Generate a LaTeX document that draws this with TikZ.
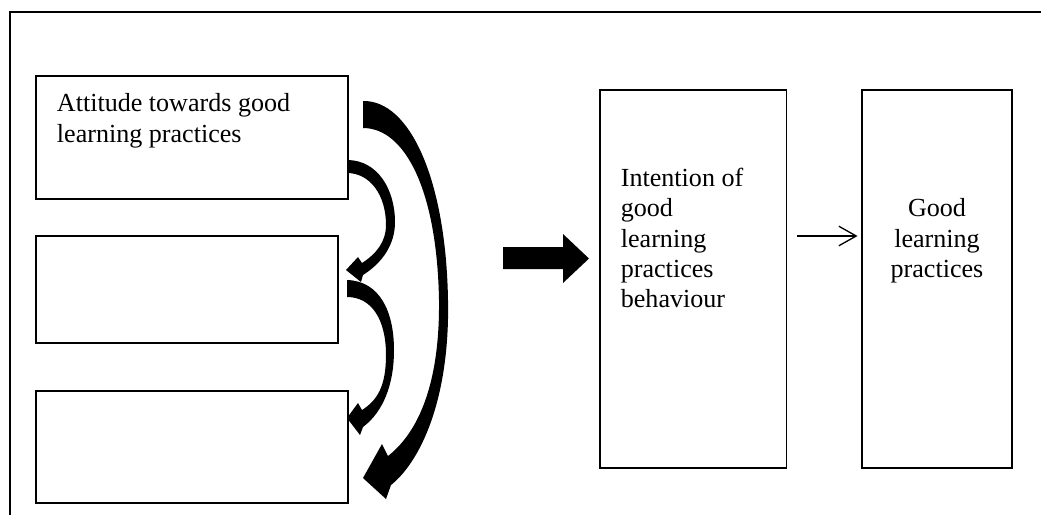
\documentclass[tikz,border=0pt]{standalone}
\usepackage{fontspec}
\setmainfont{Liberation Serif}
\usetikzlibrary{arrows.meta}

\tikzset{
  box/.style={draw, line width=0.5pt, inner sep=0pt},
  boxtext/.style={inner sep=0pt, font=\fontsize{12}{14}\selectfont},
  blockarrow/.style={fill=black},
  thinarr/.style={-{Straight Barb[length=8pt,width=9pt]}, line width=0.6pt,
    shorten <=5pt, shorten >=1.8pt},
}

\begin{document}
\begin{tikzpicture}[x=0.46pt, y=-0.46pt]
\useasboundingbox (0,0) rectangle (1041,515);
% outer frame
\draw[line width=0.8pt] (1041,12) -- (10,12) -- (10,515);

% left column
\node[box, minimum width=143.5pt, minimum height=56.6pt] (att) at (192,137.5) {};
\node[box, minimum width=138.9pt, minimum height=49.2pt] (mid) at (187,289.5) {};
\node[box, minimum width=143.5pt, minimum height=51.5pt] (low) at (192,447) {};
\node[boxtext, anchor=north west, align=left] (atttext)
  at ([shift={(21,18)}]att.north west) {Attitude towards good\\learning practices};

% right column
\node[box, minimum width=85.6pt, minimum height=173.9pt] (intent) at (693,279) {};
\node[box, minimum width=69pt, minimum height=173.9pt] (good) at (937,279) {};
\node[boxtext, anchor=north west, align=left] (intenttext)
  at ([shift={(21,78)}]intent.north west)
  {Intention of\\good\\learning\\practices\\behaviour};
\node[boxtext, anchor=north, align=center] (goodtext)
  at ([shift={(0,109)}]good.north) {Good\\learning\\practices};

% curved block arrows
\fill[blockarrow] (363,101) .. controls (410,100) and (446,180) .. (448,300)
  .. controls (450,400) and (420,462) .. (391,485) -- (386,499) -- (363,478)
  -- (382,444) -- (388,456) .. controls (415,435) and (440,390) .. (439,300)
  .. controls (437,190) and (405,128) .. (363,128) -- cycle;
\fill[blockarrow] (347,160) .. controls (378,160) and (395,190) .. (395,222)
  .. controls (395,245) and (382,263) .. (363,275) -- (361,282) -- (346,270)
  -- (358,257) -- (362,263) .. controls (376,254) and (386,242) .. (386,225)
  .. controls (386,195) and (370,173) .. (347,173) -- cycle;
\fill[blockarrow] (347,280) .. controls (380,281) and (394,312) .. (394,350)
  .. controls (394,385) and (383,412) .. (363,427) -- (360,435) -- (347,418)
  -- (358,403) -- (362,410) .. controls (378,400) and (386,385) .. (386,355)
  .. controls (386,320) and (372,297) .. (347,297) -- cycle;

% straight block arrow
\fill[blockarrow] (503,247) -- (563,247) -- (563,234) -- (589,258.5)
  -- (563,283) -- (563,269) -- (503,269) -- cycle;

\draw[thinarr] ([shift={(0,-43)}]intent.east) -- ([shift={(0,-43)}]good.west);
\end{tikzpicture}
\end{document}
